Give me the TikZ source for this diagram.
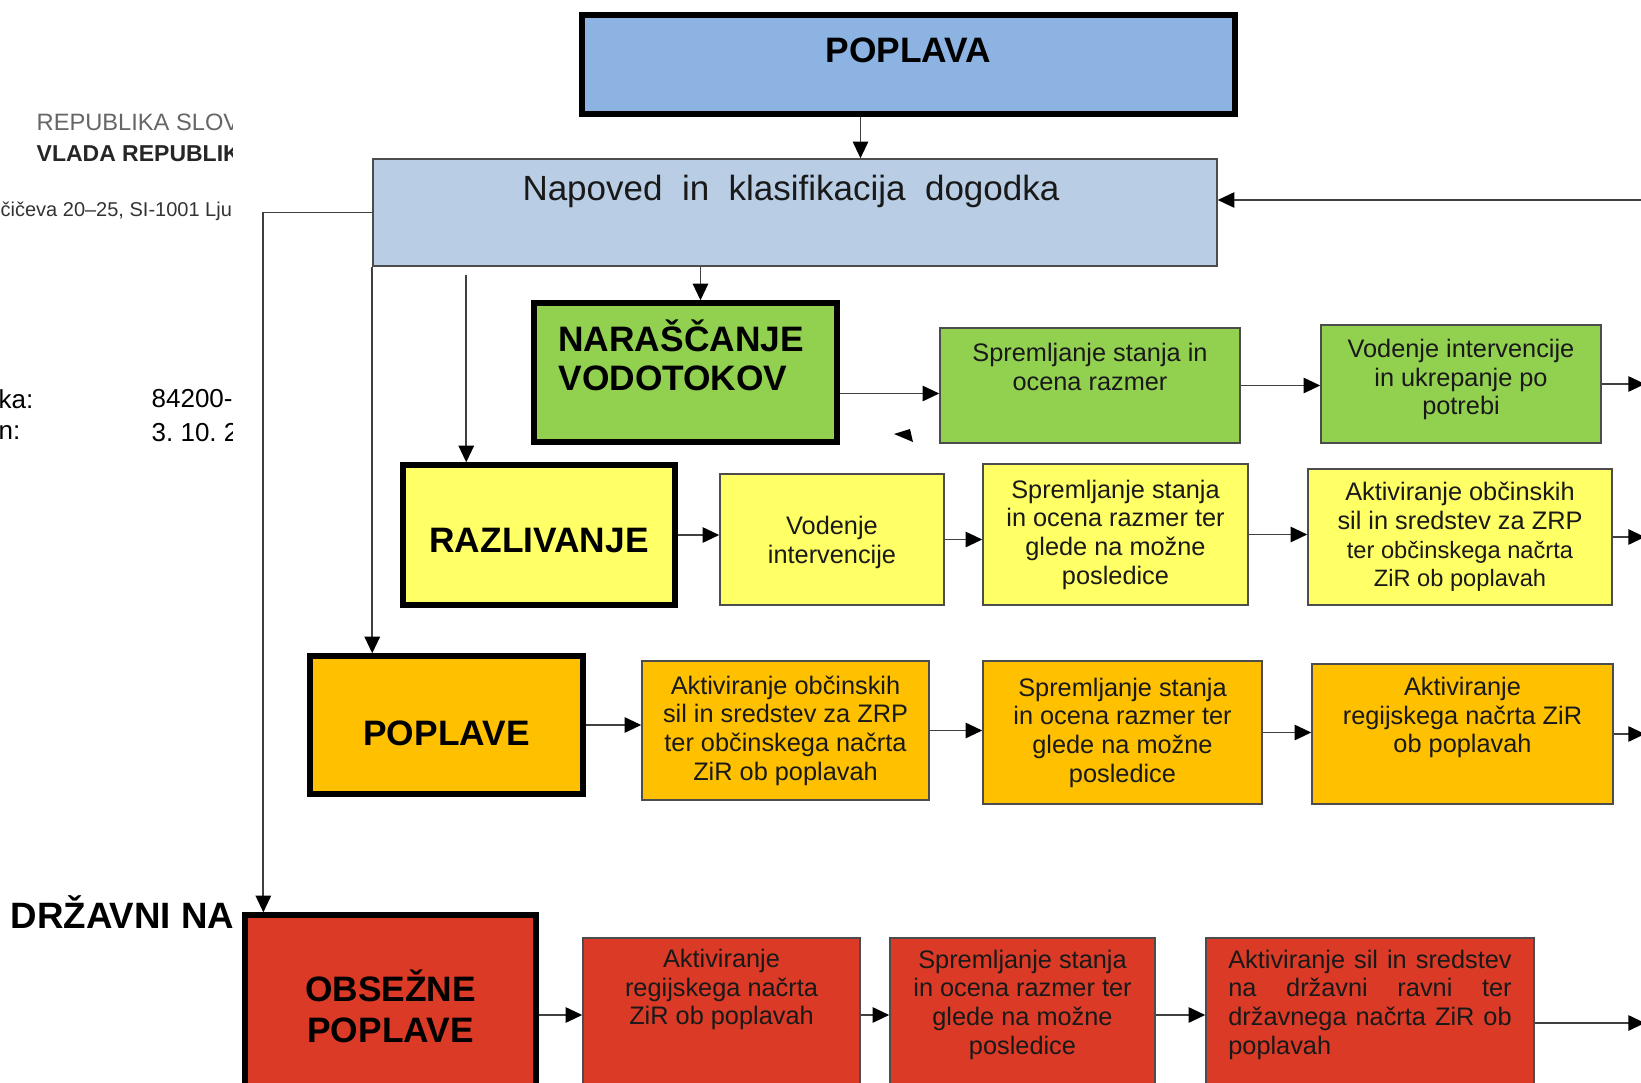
\documentclass[tikz,border=0pt]{standalone}
\usepackage{fontspec}
\setmainfont{Liberation Sans}
\usetikzlibrary{positioning, arrows.meta, fit, calc}
\definecolor{FloodBlue}{RGB}{141,179,226}
\definecolor{ForecastBlue}{RGB}{185,205,229}
\definecolor{RiseGreen}{RGB}{146,208,80}
\definecolor{SpillYellow}{RGB}{255,255,102}
\definecolor{FloodOrange}{RGB}{255,192,0}
\definecolor{WideRed}{RGB}{218,58,38}

\tikzset{
  levelbox/.style={draw=black, line width=1.6pt, inner sep=0pt},
  actbox/.style={draw=black!70, line width=0.45pt, inner sep=0pt},
  lbl/.style={font=\fontsize{10.6}{12}\selectfont\bfseries, align=center, inner sep=0pt},
  acttext/.style={font=\fontsize{7.6}{8.6}\selectfont, align=center, inner sep=0pt, text=black!90},
  pagetext/.style={anchor=west, inner sep=0pt},
  conn/.style={draw=black!75, line width=0.55pt, -{Triangle[length=5pt, width=4.6pt, color=black]}},
}

\begin{document}
\begin{tikzpicture}[x=0.3pt, y=-0.3pt]
  \useasboundingbox (0,0) rectangle (1641,1083);

  % Clipped page header on the left
  \begin{scope}
    \clip (-5,0) rectangle (232,1083);
    \node[pagetext, text=black!60, font=\fontsize{7.1}{8}\selectfont] (rs) at (36,122) {REPUBLIKA SLOVE};
    \node[pagetext, text=black!85, font=\fontsize{6.9}{8}\selectfont\bfseries] (vrs) at (36,154) {VLADA REPUBLIKE};
    \node[pagetext, text=black!80, font=\fontsize{6}{7}\selectfont] (addr) at (0,211) {čičeva 20–25, SI-1001 Lju};
    \node[pagetext, font=\fontsize{7.8}{9}\selectfont] (num) at (-2,399) {ka:};
    \node[pagetext, font=\fontsize{7.8}{9}\selectfont] (numv) at (151,399) {84200-2};
    \node[pagetext, font=\fontsize{7.8}{9}\selectfont] (date) at (-2,433) {n:};
    \node[pagetext, font=\fontsize{7.8}{9}\selectfont] (datev) at (151,433) {3.~10.~2};
    \node[pagetext, font=\fontsize{11}{13}\selectfont\bfseries] (state) at (10,912) {DRŽAVNI NA};
  \end{scope}

  % Boxes
  \node[levelbox, fill=FloodBlue, fit={(582,15) (1235,114)}] (flood) {};
  \node[actbox, fill=ForecastBlue, fit={(373,159) (1217,266)}] (fcast) {};
  \node[levelbox, fill=RiseGreen, fit={(534,303) (837,442)}] (rise) {};
  \node[actbox, fill=RiseGreen, fit={(940,328) (1240,443)}] (g1) {};
  \node[actbox, fill=RiseGreen, fit={(1321,325) (1601,443)}] (g2) {};
  \node[levelbox, fill=SpillYellow, fit={(403,465) (675,605)}] (spill) {};
  \node[actbox, fill=SpillYellow, fit={(720,474) (944,605)}] (y1) {};
  \node[actbox, fill=SpillYellow, fit={(983,464) (1248,605)}] (y2) {};
  \node[actbox, fill=SpillYellow, fit={(1308,469) (1612,605)}] (y3) {};
  \node[levelbox, fill=FloodOrange, fit={(310,656) (583,794)}] (floods) {};
  \node[actbox, fill=FloodOrange, fit={(642,661) (929,800)}] (o1) {};
  \node[actbox, fill=FloodOrange, fit={(983,661) (1262,804)}] (o2) {};
  \node[actbox, fill=FloodOrange, fit={(1312,664) (1613,804)}] (o3) {};
  \node[levelbox, fill=WideRed, fit={(245,915) (536,1115)}] (wide) {};
  \node[actbox, fill=WideRed, fit={(583,938) (860,1092)}] (r1) {};
  \node[actbox, fill=WideRed, fit={(890,938) (1155,1092)}] (r2) {};
  \node[actbox, fill=WideRed, fit={(1206,938) (1534,1092)}] (r3) {};

  % Texts
  \node[lbl] (flood-t) at ([yshift=4.4pt]flood.center) {POPLAVA};
  \node[acttext, font=\fontsize{10.5}{12}\selectfont] (fcast-t) at ([xshift=-1.2pt, yshift=6.3pt]fcast.center) {Napoved~ in~ klasifikacija~ dogodka};
  \node[lbl, align=left, font=\fontsize{10.6}{11.7}\selectfont\bfseries] (rise-t) at ([xshift=-1.3pt, yshift=5.1pt]rise.center) {NARAŠČANJE\\VODOTOKOV};
  \node[acttext] (g1-t) at ([yshift=5.5pt]g1.center) {Spremljanje stanja in\\ocena razmer};
  \node[acttext] (g2-t) at ([yshift=1.3pt]g2.center) {Vodenje intervencije\\in ukrepanje po\\potrebi};
  \node[lbl] (spill-t) at ([yshift=-1.8pt]spill.center) {RAZLIVANJE};
  \node[acttext] (y1-t) at ([yshift=-0.8pt]y1.center) {Vodenje\\intervencije};
  \node[acttext] (y2-t) at (y2.center) {Spremljanje stanja\\in ocena razmer ter\\glede na možne\\posledice};
  \node[acttext] (y3-t) at (y3.center) {Aktiviranje občinskih\\sil in sredstev za ZRP\\{\fontsize{7.1}{8.6}\selectfont ter občinskega načrta}\\{\fontsize{7.1}{8.6}\selectfont ZiR ob poplavah}};
  \node[lbl] (floods-t) at ([yshift=-2.4pt]floods.center) {POPLAVE};
  \node[acttext] (o1-t) at (o1.center) {Aktiviranje občinskih\\sil in sredstev za ZRP\\ter občinskega načrta\\ZiR ob poplavah};
  \node[acttext] (o2-t) at (o2.center) {Spremljanje stanja\\in ocena razmer ter\\glede na možne\\posledice};
  \node[acttext] (o3-t) at ([yshift=4.9pt]o3.center) {Aktiviranje\\regijskega načrta ZiR\\ob poplavah};
  \node[lbl, font=\fontsize{10.6}{12.3}\selectfont\bfseries] (wide-t) at ([yshift=-28.3pt]wide.north) {OBSEŽNE\\POPLAVE};
  \node[acttext] (r1-t) at ([yshift=-15.7pt]r1.north) {Aktiviranje\\regijskega načrta\\ZiR ob poplavah};
  \node[acttext] (r2-t) at ([yshift=-20.2pt]r2.north) {Spremljanje stanja\\in ocena razmer ter\\glede na možne\\posledice};
  \node[acttext, align=left] (r3-t) at ([yshift=-20.2pt]r3.north) {\makebox[85pt][s]{Aktiviranje sil in sredstev}\\\makebox[85pt][s]{na državni ravni ter}\\\makebox[85pt][s]{državnega načrta ZiR ob}\\poplavah\hspace*{\fill}};

  % Connector end points
  \coordinate (edge) at (1645,0);
  \coordinate (fbin) at (1650,200);
  \coordinate (floodout) at ($(flood.south)+(-48,0)$);
  \coordinate (risesrc) at ($(rise.north)+(15,0)$);
  \coordinate (spillsrc) at ($(fcast.south west)+(94,8)$);
  \coordinate (riseout) at ($(rise.east)+(0,21)$);

  % Connectors from the top
  \draw[conn] (floodout) -- (floodout |- fcast.north);
  \draw[conn] (fbin) -- (fbin -| fcast.east);
  \draw[conn] (risesrc |- fcast.south) -- (risesrc);
  \draw[conn] (spillsrc) -- (spillsrc |- spill.north);
  \draw[conn] (fcast.south west) -- (fcast.south west |- floods.north);
  \draw[conn] (fcast.west) -| ($(wide.north west)+(21,0)$);

  % Rows
  \draw[conn] (riseout) -- (riseout -| g1.west);
  \draw[conn] (g1.east) -- (g1.east -| g2.west);
  \draw[conn] (g2.east) -- (g2.east -| edge);
  \draw[conn] (spill.east) -- (spill.east -| y1.west);
  \draw[conn] (y1.east) -- (y1.east -| y2.west);
  \draw[conn] (y2.east) -- (y2.east -| y3.west);
  \draw[conn] (y3.east) -- (y3.east -| edge);
  \draw[conn] (floods.east) -- (floods.east -| o1.west);
  \draw[conn] (o1.east) -- (o1.east -| o2.west);
  \draw[conn] (o2.east) -- (o2.east -| o3.west);
  \draw[conn] (o3.east) -- (o3.east -| edge);
  \draw[conn] (wide.east) -- (wide.east -| r1.west);
  \draw[conn] (r1.east) -- (r1.east -| r2.west);
  \draw[conn] (r2.east) -- (r2.east -| r3.west);
  \draw[conn] ([yshift=-2.4pt]r3.east) -- ([yshift=-2.4pt]r3.east -| edge);

  % Stray arrow head
  \fill[black] (894,434) -- (910,429) -- (913,442) -- cycle;
\end{tikzpicture}
\end{document}
